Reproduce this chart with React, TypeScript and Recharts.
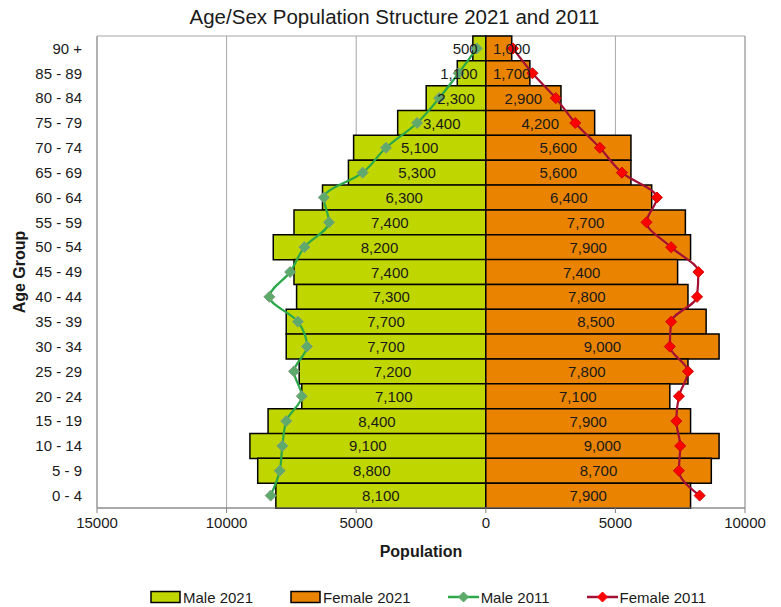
import {
  ComposedChart,
  Bar,
  Line,
  XAxis,
  YAxis,
  CartesianGrid,
  Legend,
  LabelList,
  ReferenceArea,
} from 'recharts'

const ageGroups = [
  '90 +', '85 - 89', '80 - 84', '75 - 79', '70 - 74', '65 - 69', '60 - 64',
  '55 - 59', '50 - 54', '45 - 49', '40 - 44', '35 - 39', '30 - 34', '25 - 29',
  '20 - 24', '15 - 19', '10 - 14', '5 - 9', '0 - 4',
]
const male2021 = [500, 1100, 2300, 3400, 5100, 5300, 6300, 7400, 8200, 7400, 7300, 7700, 7700, 7200, 7100, 8400, 9100, 8800, 8100]
const female2021 = [1000, 1700, 2900, 4200, 5600, 5600, 6400, 7700, 7900, 7400, 7800, 8500, 9000, 7800, 7100, 7900, 9000, 8700, 7900]
const male2011 = [350, 1050, 1800, 2650, 3850, 4750, 6250, 6050, 7000, 7550, 8350, 7250, 6900, 7400, 7100, 7700, 7850, 7950, 8300]
const female2011 = [1050, 1800, 2700, 3450, 4400, 5250, 6600, 6200, 7150, 8200, 8150, 7150, 7100, 7800, 7450, 7350, 7500, 7450, 8250]
const xTicks = [-15000, -10000, -5000, 0, 5000, 10000]

const MALE_FILL = '#BFD600'
const FEMALE_FILL = '#E98300'
const MALE_LINE = '#2BA84A'
const FEMALE_LINE = '#A50F34'
const FONT = '"Liberation Sans", Arial, sans-serif'

const data = ageGroups.map((age, i) => ({
  age,
  male: -male2021[i],
  female: female2021[i],
  male11: -male2011[i],
  female11: female2011[i],
}))

const fmt = (v: number) => Math.abs(v).toLocaleString('en-US')

function textWidth(s: string) {
  let w = 0
  for (const c of s) w += c === ',' ? 4.2 : 8.4
  return w
}

function barLabel(side: 'male' | 'female') {
  return (props: any) => {
    const { x, y, width, height, value } = props
    const left = Math.min(x, x + width)
    const right = Math.max(x, x + width)
    const text = fmt(value)
    const tw = textWidth(text)
    let cx = (left + right) / 2
    if (side === 'male') cx = Math.min(cx, right - 8 - tw / 2)
    else cx = Math.max(cx, left + 7 + tw / 2)
    return (
      <text
        x={cx}
        y={y + height / 2}
        textAnchor="middle"
        dominantBaseline="central"
        fontSize={15}
        fontFamily={FONT}
        fill="#1a1a1a"
      >
        {text}
      </text>
    )
  }
}

function diamond(fill: string, stroke: string, r: number) {
  return (props: any) => {
    const { cx, cy, index } = props
    return (
      <path
        key={`d-${index}`}
        d={`M${cx},${cy - r}L${cx + r},${cy}L${cx},${cy + r}L${cx - r},${cy}Z`}
        fill={fill}
        stroke={stroke}
        strokeWidth={1}
      />
    )
  }
}

const legendItems = [
  { label: 'Male 2021', kind: 'rect', color: MALE_FILL },
  { label: 'Female 2021', kind: 'rect', color: FEMALE_FILL },
  { label: 'Male 2011', kind: 'line', color: MALE_LINE, marker: '#5DAA6A' },
  { label: 'Female 2011', kind: 'line', color: FEMALE_LINE, marker: '#FF0000' },
]

function LegendContent() {
  return (
    <div
      style={{
        display: 'flex',
        alignItems: 'center',
        paddingLeft: 120,
        gap: 37,
        fontFamily: FONT,
        fontSize: 15,
        color: '#1a1a1a',
        height: 20,
      }}
    >
      {legendItems.map((it) => (
        <div key={it.label} style={{ display: 'flex', alignItems: 'center' }}>
          <svg width={31} height={14} style={{ marginRight: 2 }}>
            {it.kind === 'rect' ? (
              <rect x={1} y={1.5} width={29} height={11} fill={it.color} stroke="#000" strokeWidth={1.5} />
            ) : (
              <g>
                <line x1={0} y1={7} x2={31} y2={7} stroke={it.color} strokeWidth={2.5} />
                <path d="M15.5,2L20.5,7L15.5,12L10.5,7Z" fill={it.marker} stroke={it.marker} />
              </g>
            )}
          </svg>
          <span>{it.label}</span>
        </div>
      ))}
    </div>
  )
}

export default function App() {
  return (
    <div style={{ position: 'relative', width: 781, height: 607, background: '#fff', fontFamily: FONT }}>
      <style>{'body{margin:0}'}</style>
      <div
        style={{
          position: 'absolute',
          top: 5,
          left: 0,
          width: 781,
          textAlign: 'center',
          fontSize: 20.5,
          color: '#1a1a1a',
          paddingLeft: 8,
          boxSizing: 'border-box',
        }}
      >
        Age/Sex Population Structure 2021 and 2011
      </div>
      <ComposedChart
        width={781}
        height={607}
        data={data}
        layout="vertical"
        stackOffset="sign"
        barCategoryGap={0}
        barGap={0}
        margin={{ top: 36, right: 36, left: 30, bottom: 0 }}
      >
        <ReferenceArea x1={-15000} x2={10000} fill="none" stroke="#A6A6A6" ifOverflow="visible" />
        <CartesianGrid horizontal={false} stroke="#A6A6A6" />
        <XAxis
          type="number"
          domain={[-15000, 10000]}
          ticks={xTicks}
          tickFormatter={(v: number) => String(Math.abs(v))}
          height={79}
          axisLine={{ stroke: '#808080' }}
          tickLine={{ stroke: '#808080' }}
          tickSize={5}
          tickMargin={4}
          tick={{ fontSize: 15, fill: '#1a1a1a', fontFamily: FONT }}
          label={{
            value: 'Population',
            position: 'insideBottom',
            offset: 30,
            style: { fontSize: 16, fontWeight: 'bold', fill: '#1a1a1a', fontFamily: FONT },
          }}
        />
        <YAxis
          type="category"
          dataKey="age"
          width={67}
          axisLine={{ stroke: '#A6A6A6' }}
          tickLine={false}
          tickSize={6}
          tickMargin={9}
          interval={0}
          tick={{ fontSize: 15, fill: '#1a1a1a', fontFamily: FONT }}
          label={(p: any) => {
            const vb = p.viewBox
            const cy = vb.y + vb.height / 2
            return (
              <text
                x={19}
                y={cy}
                transform={`rotate(-90 19 ${cy})`}
                textAnchor="middle"
                dominantBaseline="central"
                fontSize={16}
                fontWeight="bold"
                fill="#1a1a1a"
                fontFamily={FONT}
              >
                Age Group
              </text>
            )
          }}
        />
        <Legend verticalAlign="bottom" height={20} content={<LegendContent />} />
        <Bar dataKey="male" name="Male 2021" stackId="pop" fill={MALE_FILL} stroke="#000" strokeWidth={1.5} isAnimationActive={false}>
          <LabelList dataKey="male" content={barLabel('male')} />
        </Bar>
        <Bar dataKey="female" name="Female 2021" stackId="pop" fill={FEMALE_FILL} stroke="#000" strokeWidth={1.5} isAnimationActive={false}>
          <LabelList dataKey="female" content={barLabel('female')} />
        </Bar>
        <Line
          dataKey="male11"
          name="Male 2011"
          type="monotone"
          stroke={MALE_LINE}
          strokeWidth={2.2}
          dot={diamond('#5DAA6A', '#7E9F80', 5.5)}
          isAnimationActive={false}
        />
        <Line
          dataKey="female11"
          name="Female 2011"
          type="monotone"
          stroke={FEMALE_LINE}
          strokeWidth={2.2}
          dot={diamond('#FF0000', '#D00000', 5.5)}
          isAnimationActive={false}
        />
      </ComposedChart>
    </div>
  )
}
